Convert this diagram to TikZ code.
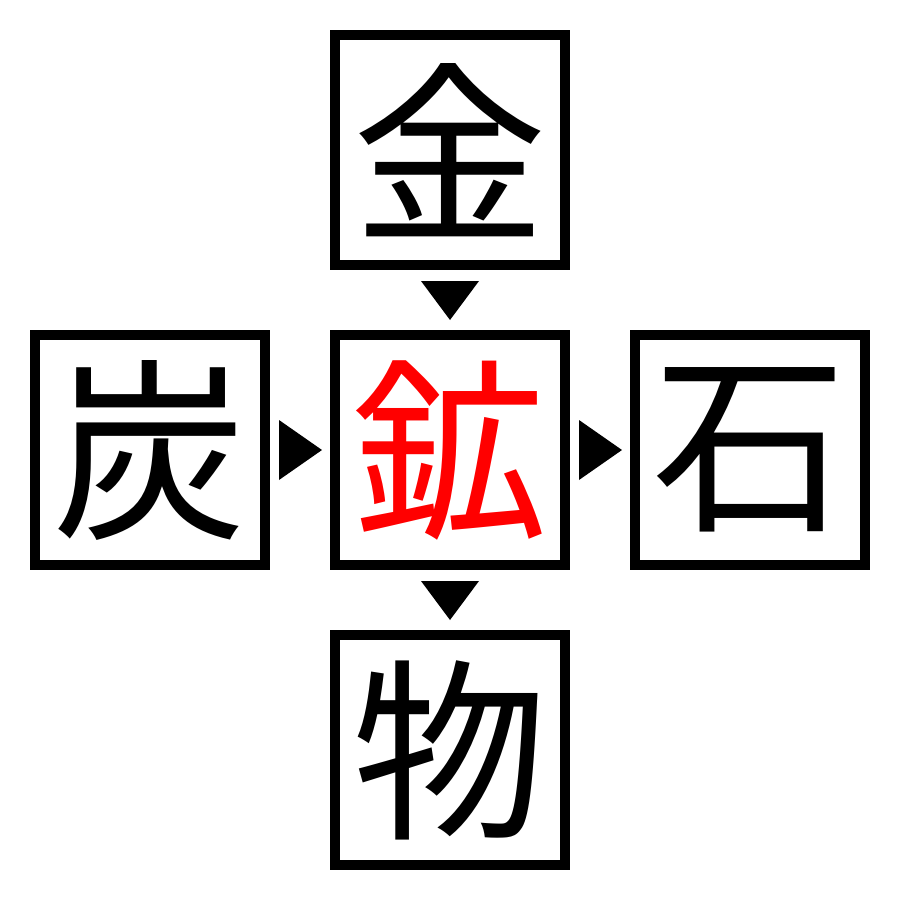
\documentclass[tikz,border=0pt]{standalone}
\usepackage{fontspec}
\usetikzlibrary{calc}
\newfontfamily\cjk{Noto Sans CJK JP}
\begin{document}
\begin{tikzpicture}[x=1pt,y=-1pt,
  kbox/.style={draw=black,line width=10pt,minimum width=230pt,minimum height=230pt,inner sep=0pt,font=\cjk\fontsize{195}{195}\selectfont},
  tri/.style={fill=black,draw=none}]
\useasboundingbox (0,0) rectangle (900,900);
\node[kbox] (top) at (450,150) {金};
\node[kbox] (left) at (150,450) {炭};
\node[kbox,text=red] (mid) at (450,450) {鉱};
\node[kbox] (right) at (750,450) {石};
\node[kbox] (bot) at (450,750) {物};
\coordinate (m1) at ($(top.south)!0.5!(mid.north)$);
\coordinate (m2) at ($(mid.south)!0.5!(bot.north)$);
\coordinate (m3) at ($(left.east)!0.5!(mid.west)$);
\coordinate (m4) at ($(mid.east)!0.5!(right.west)$);
\fill[tri] ($(m1)+(-29,-19)$) -- ($(m1)+(29,-19)$) -- ($(m1)+(0,20)$) -- cycle;
\fill[tri] ($(m2)+(-29,-19)$) -- ($(m2)+(29,-19)$) -- ($(m2)+(0,20)$) -- cycle;
\fill[tri] ($(m3)+(-21,-30)$) -- ($(m3)+(-21,30)$) -- ($(m3)+(22,0)$) -- cycle;
\fill[tri] ($(m4)+(-21,-30)$) -- ($(m4)+(-21,30)$) -- ($(m4)+(22,0)$) -- cycle;
\end{tikzpicture}
\end{document}
